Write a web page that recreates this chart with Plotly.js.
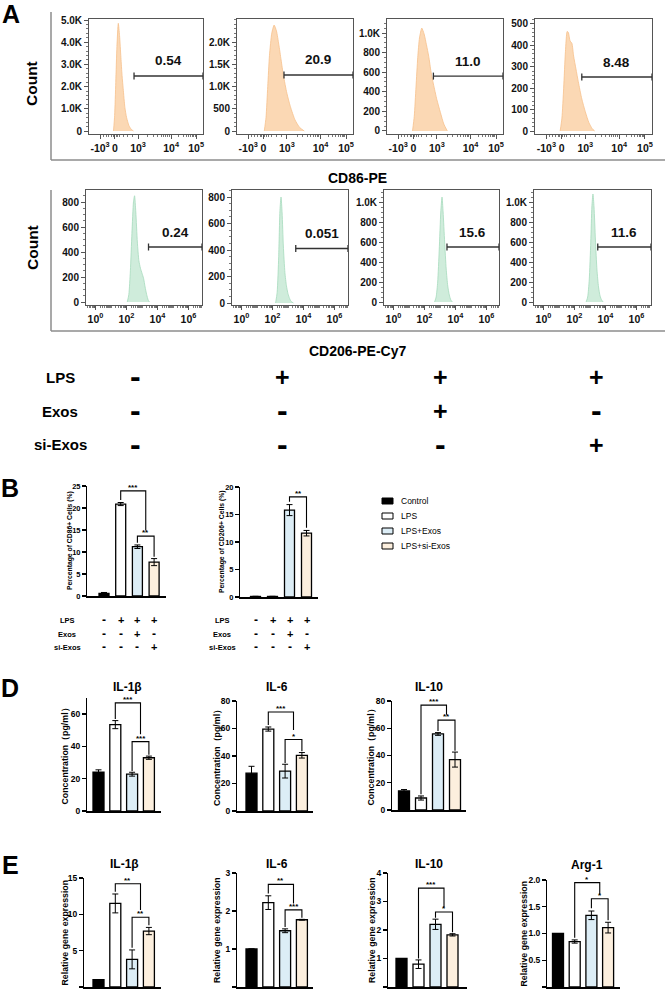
<!DOCTYPE html>
<html><head><meta charset="utf-8">
<script src="https://cdn.plot.ly/plotly-3.0.1.min.js"></script>
<style>html,body{margin:0;padding:0;background:#fff}#chart{width:665px;height:991px}</style>
</head><body><div id="chart"></div>
<script>
// ================= DATA =================
const groups = ['Control', 'LPS', 'LPS+Exos', 'LPS+si-Exos'];
const rowLabels = ['LPS', 'Exos', 'si-Exos'];
const lpsRow = ['-', '+', '+', '+'];
const exosRow = ['-', '-', '+', '-'];
const siExosRow = ['-', '-', '-', '+'];

// Panel A, CD86-PE histograms (x on the logicle display scale 0..1, y = count)
const cd86X_ctrl = [0.215,0.225,0.235,0.245,0.257,0.268,0.28,0.29,0.30,0.315,0.33,0.35,0.37,0.39];
const cd86Y_ctrl = [0,700,2200,3800,4850,4300,3300,2500,1900,1050,600,250,80,0];
const cd86X_lps = [0.235,0.25,0.265,0.28,0.30,0.32,0.34,0.36,0.38,0.40,0.43,0.46,0.50,0.54,0.58];
const cd86Y_lps = [0,300,1000,1700,2200,2380,2250,1950,1600,1250,850,550,250,80,0];
const cd86X_exos = [0.22,0.235,0.25,0.265,0.28,0.30,0.32,0.34,0.36,0.38,0.40,0.43,0.46,0.49,0.52];
const cd86Y_exos = [0,150,450,750,950,1050,990,880,760,600,480,320,190,70,0];
const cd86X_si = [0.215,0.23,0.245,0.26,0.275,0.285,0.30,0.315,0.33,0.35,0.37,0.40,0.43,0.46,0.49,0.51];
const cd86Y_si = [0,60,200,370,465,460,420,410,350,290,230,150,90,40,10,0];
const cd86GatePct = ['0.54', '20.9', '11.0', '8.48'];
const cd86GateStart = [0.395, 0.405, 0.40, 0.40];
const cd86GateLevel = [2480, 1260, 560, 252];

// Panel A, CD206-PE-Cy7 histograms (x in decades, y = count)
const cd206X_ctrl = [2.05,2.15,2.25,2.35,2.45,2.52,2.6,2.7,2.8,2.9,3.0,3.1,3.2,3.3,3.4,3.48];
const cd206Y_ctrl = [0,60,250,550,800,850,720,480,330,270,230,190,120,60,15,0];
const cd206X_lps = [2.2,2.3,2.4,2.48,2.55,2.62,2.7,2.8,2.9,3.0,3.1,3.2,3.35];
const cd206Y_lps = [0,80,350,700,800,680,430,230,130,70,35,12,0];
const cd206X_exos = [2.65,2.75,2.85,2.95,3.05,3.13,3.2,3.3,3.4,3.5,3.6,3.7,3.8];
const cd206Y_exos = [0,50,200,520,900,1050,900,600,330,160,70,20,0];
const cd206X_si = [2.75,2.85,2.95,3.05,3.12,3.19,3.26,3.35,3.45,3.55,3.65,3.75,3.85];
const cd206Y_si = [0,50,220,600,950,1080,950,620,320,150,60,20,0];
const cd206GatePct = ['0.24', '0.051', '15.6', '11.6'];
const cd206GateStart = [3.42, 3.5, 3.45, 3.5];
const cd206GateLevel = [440, 412, 550, 550];

// Histogram tick labels
const cd86XTickVals = [0.097, 0.228, 0.43, 0.72, 0.94];
const cd86XTickText = ['-10<sup>3</sup>', '0', '10<sup>3</sup>', '10<sup>4</sup>', '10<sup>5</sup>'];
const cd206XTickVals = [0, 2, 4, 6];
const cd206XTickText = ['10<sup>0</sup>', '10<sup>2</sup>', '10<sup>4</sup>', '10<sup>6</sup>'];
const cd86YTicks = [
  [[0,1000,2000,3000,4000,5000], ['0','1.0K','2.0K','3.0K','4.0K','5.0K']],
  [[0,500,1000,1500,2000], ['0','500','1.0K','1.5K','2.0K']],
  [[0,200,400,600,800,1000], ['0','200','400','600','800','1.0K']],
  [[0,100,200,300,400,500], ['0','100','200','300','400','500']]
];
const cd206YTicks = [
  [[0,200,400,600,800], ['0','200','400','600','800']],
  [[0,200,400,600,800], ['0','200','400','600','800']],
  [[0,200,400,600,800,1000], ['0','200','400','600','800','1.0K']],
  [[0,200,400,600,800,1000], ['0','200','400','600','800','1.0K']]
];

// Panel B: percentage of positive cells (mean, SD)
const cd86Pct = [0.6, 20.9, 11.2, 7.7];
const cd86PctErr = [0.2, 0.35, 0.4, 0.8];
const cd206Pct = [0.1, 0.1, 15.8, 11.6];
const cd206PctErr = [0.03, 0.03, 1.0, 0.5];

// Panel D: ELISA concentration (pg/ml)
const il1bConc = [24, 53.5, 22.8, 33];
const il1bConcErr = [1.5, 2.5, 1.2, 1.0];
const il6Conc = [27.5, 59.6, 29, 40.5];
const il6ConcErr = [5, 1.5, 5, 2];
const il10Conc = [14, 8.8, 55.8, 37];
const il10ConcErr = [1, 1.5, 1, 5.5];

// Panel E: relative gene expression
const il1bExpr = [1, 11.5, 3.8, 7.7];
const il1bExprErr = [0, 1.3, 1.3, 0.5];
const il6Expr = [1, 2.22, 1.48, 1.77];
const il6ExprErr = [0, 0.18, 0.05, 0.01];
const il10Expr = [1, 0.8, 2.2, 1.83];
const il10ExprErr = [0, 0.15, 0.18, 0.04];
const arg1Expr = [1, 0.85, 1.34, 1.11];
const arg1ExprErr = [0, 0.03, 0.08, 0.1];

// Significance brackets: [from group, to group, top, left end, right end, label]
const cd86Sig = [[1, 2.5, 23.9, 21.8, 14.9, '***'], [2, 3, 13.6, 12.1, 8.9, '**']];
const cd206Sig = [[2, 3, 18.2, 17.3, 12.6, '**']];
const il1bConcSig = [[1, 2.5, 67, 57, 47.5, '***'], [2, 3, 43, 24.8, 34.8, '***']];
const il6ConcSig = [[1, 2.5, 72, 62.5, 59, '***'], [2, 3, 52, 35, 43.5, '*']];
const il10ConcSig = [[1, 2.5, 77, 11.5, 70, '***'], [2, 3, 66, 58, 43.5, '**']];
const il1bExprSig = [[1, 2.5, 14.2, 13.1, 10.6, '**'], [2, 3, 9.6, 5.4, 8.5, '**']];
const il6ExprSig = [[1, 2.5, 2.7, 2.46, 2.2, '**'], [2, 3, 2.03, 1.58, 1.82, '***']];
const il10ExprSig = [[1, 2.5, 3.47, 1.0, 2.8, '***'], [2, 3, 2.63, 2.43, 1.92, '*']];
const arg1ExprSig = [[1, 2.5, 1.95, 0.92, 1.73, '*'], [2, 3, 1.65, 1.47, 1.25, '*']];

// ================= STYLE / LAYOUT =================
const W = 665, H = 991;
const FONT = 'Liberation Sans, Arial, Helvetica, sans-serif';
const barColors = ['#000000', '#ffffff', '#dcedf6', '#fcefde'];
const orangeFill = 'rgba(251,214,176,0.95)', orangeLine = '#f6c08c';
const greenFill = 'rgba(204,235,217,0.95)', greenLine = '#a6dbbd';

const traces = [];
const layout = {
  width: W, height: H, margin: {l: 0, r: 0, t: 0, b: 0},
  paper_bgcolor: '#ffffff', plot_bgcolor: 'rgba(0,0,0,0)',
  showlegend: false, font: {family: FONT, color: '#000'},
  shapes: [], annotations: []
};
const an = n => (n === 1 ? '' : String(n));
const px = x => x / W;
const py = y => 1 - y / H;
const b = t => '<b>' + t + '</b>';

function txt(x, y, text, size, opts) {
  layout.annotations.push(Object.assign({
    xref: 'paper', yref: 'paper', x: px(x), y: py(y), text: text, showarrow: false,
    xanchor: 'center', yanchor: 'middle', font: {family: FONT, size: size, color: '#000'}
  }, opts || {}));
}
function pline(x0, y0, x1, y1, color, width) {
  layout.shapes.push({type: 'line', xref: 'paper', yref: 'paper',
    x0: px(x0), y0: py(y0), x1: px(x1), y1: py(y1), line: {color: color, width: width}});
}

// ---------- histogram helpers ----------
function histPlot(n, xPx, yPx, xr, yr, xTickVals, xTickText, xMinor, yTicks, yMinorD, xs, ys, fill, line, gStart, gLevel, gPct) {
  const s = an(n);
  layout['xaxis' + s] = {
    domain: [px(xPx[0]), px(xPx[1])], range: xr, anchor: 'y' + s,
    showline: true, mirror: true, linecolor: '#555', linewidth: 1,
    ticks: 'outside', ticklen: 4, tickwidth: 1, tickcolor: '#555',
    tickmode: 'array', tickvals: xTickVals, ticktext: xTickText.map(b),
    tickfont: {family: FONT, size: 10.5, color: '#111'},
    minor: {tickmode: 'array', tickvals: xMinor, ticks: 'outside', ticklen: 2, tickwidth: 0.8, tickcolor: '#555'},
    showgrid: false, zeroline: false, fixedrange: true
  };
  layout['yaxis' + s] = {
    domain: [py(yPx[1]), py(yPx[0])], range: yr, anchor: 'x' + s,
    showline: true, mirror: true, linecolor: '#555', linewidth: 1,
    ticks: 'outside', ticklen: 4, tickwidth: 1, tickcolor: '#555',
    tickmode: 'array', tickvals: yTicks[0], ticktext: yTicks[1].map(b),
    tickfont: {family: FONT, size: 10, color: '#111'},
    minor: {tickmode: 'linear', tick0: 0, dtick: yMinorD, ticks: 'outside', ticklen: 2, tickwidth: 0.8, tickcolor: '#555'},
    showgrid: false, zeroline: false, fixedrange: true
  };
  traces.push({type: 'scatter', mode: 'lines', x: xs, y: ys, xaxis: 'x' + s, yaxis: 'y' + s,
    fill: 'tozeroy', fillcolor: fill, line: {color: line, width: 0.8, shape: 'spline', smoothing: 0.6},
    hoverinfo: 'skip'});
  const xe = xr[1];
  const ref = {xref: 'x' + s, yref: 'y' + s};
  layout.shapes.push(Object.assign({type: 'line', x0: gStart, x1: xe, y0: gLevel, y1: gLevel, line: {color: '#333', width: 1.4}}, ref));
  [gStart, xe].forEach(xc => layout.shapes.push(Object.assign({type: 'line', ysizemode: 'pixel', yanchor: gLevel,
    x0: xc, x1: xc, y0: -3.5, y1: 3.5, line: {color: '#333', width: 1.3}}, ref)));
  layout.annotations.push(Object.assign({x: (gStart + xe) / 2, y: gLevel, yshift: 15, text: b(gPct), showarrow: false,
    xanchor: 'center', yanchor: 'middle', font: {family: FONT, size: 13.5, color: '#111'}}, ref));
}

// minor tick positions (axis decoration)
const cd86Minor = [0.125, 0.15, 0.175, 0.2, 0.212, 0.238, 0.25, 0.27, 0.3, 0.34, 0.38];
[[0.43, 0.72], [0.72, 0.94]].forEach(([a, c]) => { for (let k = 2; k <= 9; k++) cd86Minor.push(a + (c - a) * Math.log10(k)); });
const cd206Minor = [];
for (let d = -1; d <= 6; d++) for (let k = 2; k <= 9; k++) { const v = d + Math.log10(k); if (v > -0.6 && v < 6.9) cd206Minor.push(v); }
[1, 3, 5].forEach(v => cd206Minor.push(v));

const topX = [[89, 203], [237, 353], [387, 503], [535, 652]];
const topY = [19, 134];
const topYR = [[-135, 5045], [-67, 2517], [-31, 1143], [-14, 523]];
const topMinor = [200, 100, 50, 20];
const cd86Xs = [cd86X_ctrl, cd86X_lps, cd86X_exos, cd86X_si];
const cd86Ys = [cd86Y_ctrl, cd86Y_lps, cd86Y_exos, cd86Y_si];
for (let i = 0; i < 4; i++) {
  histPlot(i + 1, topX[i], topY, [0, 1], topYR[i], cd86XTickVals, cd86XTickText, cd86Minor,
    cd86YTicks[i], topMinor[i], cd86Xs[i], cd86Ys[i], orangeFill, orangeLine,
    cd86GateStart[i], cd86GateLevel[i], cd86GatePct[i]);
}
const botX = [[86, 202], [232, 348], [384, 499], [534, 651]];
const botY = [190, 305];
const botYR = [[-24, 896], [-15, 853], [-30, 1120], [-30, 1120]];
const cd206Xs = [cd206X_ctrl, cd206X_lps, cd206X_exos, cd206X_si];
const cd206Ys = [cd206Y_ctrl, cd206Y_lps, cd206Y_exos, cd206Y_si];
for (let i = 0; i < 4; i++) {
  const w = botX[i][1] - botX[i][0];
  histPlot(i + 5, botX[i], botY, [-0.613, -0.613 + w / 15.5], botYR[i], cd206XTickVals, cd206XTickText, cd206Minor,
    cd206YTicks[i], 50, cd206Xs[i], cd206Ys[i], greenFill, greenLine,
    cd206GateStart[i], cd206GateLevel[i], cd206GatePct[i]);
}

// Panel A frame lines, labels
pline(51, 12, 51, 160, '#8c8c8c', 1.5); pline(51, 160, 665, 160, '#8c8c8c', 1.5);
pline(51, 190, 51, 331, '#8c8c8c', 1.5); pline(51, 331, 665, 331, '#8c8c8c', 1.5);
txt(32, 84, b('Count'), 15.5, {textangle: -90});
txt(32, 248, b('Count'), 15.5, {textangle: -90});
txt(357, 178, b('CD86-PE'), 14);
txt(357, 351, b('CD206-PE-Cy7'), 14);

// A treatment table
const tableRows = [lpsRow, exosRow, siExosRow];
const tableRowY = [377, 411, 445];
const tableColX = [135, 282, 440, 596];
rowLabels.forEach((lab, r) => {
  txt(60, tableRowY[r], b(lab), 15);
  tableRows[r].forEach((sg, c) => {
    if (sg === '+') txt(tableColX[c], tableRowY[r], b('+'), 25);
    else txt(tableColX[c], tableRowY[r] - 1, b('-'), 32);
  });
});

// Panel letters
txt(11, 14, b('A'), 25);
txt(10, 488, b('B'), 25);
txt(10, 688, b('D'), 25);
txt(10, 865, b('E'), 25);

// ---------- bar chart helper ----------
function barPlot(n, cfg) {
  const s = an(n);
  const L = cfg.L, R = cfg.R, c0 = cfg.c0, sp = cfg.sp;
  layout['xaxis' + s] = {
    domain: [px(L), px(R)], range: [-(c0 - L) / sp, (R - c0) / sp], anchor: 'y' + s,
    showline: true, linecolor: '#000', linewidth: 1.5, ticks: '', showticklabels: false,
    showgrid: false, zeroline: false, fixedrange: true
  };
  const tv = [], tt = [];
  for (let v = 0; v <= cfg.ymax + 1e-9; v += cfg.dtick) { tv.push(+v.toFixed(3)); tt.push(b(cfg.fmt ? v.toFixed(1) : String(Math.round(v)))); }
  layout['yaxis' + s] = {
    domain: [py(cfg.bot), py(cfg.top)], range: [0, cfg.ymax], anchor: 'x' + s,
    showline: true, linecolor: '#000', linewidth: 1.5, ticks: 'outside', ticklen: 3.5, tickwidth: 1.3, tickcolor: '#000',
    tickmode: 'array', tickvals: tv, ticktext: tt, tickfont: {family: FONT, size: cfg.tfs || 8.5, color: '#000'},
    showgrid: false, zeroline: false, fixedrange: true
  };
  traces.push({type: 'bar', x: [0, 1, 2, 3], y: cfg.vals, xaxis: 'x' + s, yaxis: 'y' + s,
    width: cfg.bw / sp, marker: {color: barColors, line: {color: '#000', width: 1.3}},
    error_y: {type: 'data', array: cfg.errs, visible: true, color: '#000', thickness: 1, width: 3},
    hoverinfo: 'skip', cliponaxis: false});
  cfg.sig.forEach(([x1, x2, yt, yl, yr, lab]) => {
    layout.shapes.push({type: 'path', xref: 'x' + s, yref: 'y' + s,
      path: `M${x1},${yl} L${x1},${yt} L${x2},${yt} L${x2},${yr}`, line: {color: '#000', width: 1.1}});
    layout.annotations.push({xref: 'x' + s, yref: 'y' + s, x: (x1 + x2) / 2, y: yt, yshift: -3, text: b(lab),
      showarrow: false, xanchor: 'center', yanchor: 'bottom', font: {family: FONT, size: 8, color: '#000'}});
  });
  if (cfg.title) txt(cfg.title[0], cfg.title[1], b(cfg.title[2]), 12);
  txt(cfg.ytx, (cfg.top + cfg.bot) / 2, b(cfg.ytitle), cfg.ytfs || 8.8, {textangle: -90});
}

// Panel B
barPlot(9, {L: 87, R: 166, c0: 104, sp: 16.7, bw: 10, top: 486, bot: 596, ymax: 25, dtick: 5, tfs: 7.5,
  vals: cd86Pct, errs: cd86PctErr, sig: cd86Sig, ytx: 70, ytitle: 'Percentage of CD86+ Cells (%)', ytfs: 6.8});
barPlot(10, {L: 240, R: 318, c0: 255.5, sp: 17, bw: 10, top: 487, bot: 597, ymax: 20, dtick: 5, tfs: 7.5,
  vals: cd206Pct, errs: cd206PctErr, sig: cd206Sig, ytx: 222, ytitle: 'Percentage of CD206+ Cells (%)', ytfs: 6.8});
// B treatment tables (signs under the bars)
const bRowY = [620, 634, 647];
[[9, 67], [10, 222]].forEach(([n, lx]) => {
  rowLabels.forEach((lab, r) => {
    txt(lx, bRowY[r], b(lab), 7.5);
    tableRows[r].forEach((sg, c) => {
      layout.annotations.push({xref: 'x' + n, yref: 'paper', x: c, y: py(bRowY[r]), text: b(sg), showarrow: false,
        xanchor: 'center', yanchor: 'middle', font: {family: FONT, size: sg === '+' ? 11 : 12, color: '#000'}});
    });
  });
});
// B legend
const legY = [501, 516, 531, 546];
groups.forEach((g, i) => {
  layout.shapes.push({type: 'rect', xref: 'paper', yref: 'paper', x0: px(382), x1: px(393), y0: py(legY[i] + 3), y1: py(legY[i] - 3),
    fillcolor: barColors[i], line: {color: '#000', width: 1}});
  txt(399, legY[i], g, 8.5, {xanchor: 'left'});
});

// Panel D
barPlot(11, {L: 87, R: 161, c0: 98.5, sp: 16.8, bw: 11, top: 698, bot: 811, ymax: 70, dtick: 20,
  vals: il1bConc, errs: il1bConcErr, sig: il1bConcSig, title: [127, 687, 'IL-1β'], ytx: 64, ytitle: 'Concentration（pg/ml）'});
barPlot(12, {L: 237, R: 313, c0: 251.5, sp: 16.8, bw: 11, top: 701, bot: 811, ymax: 80, dtick: 20,
  vals: il6Conc, errs: il6ConcErr, sig: il6ConcSig, title: [277, 687, 'IL-6'], ytx: 217, ytitle: 'Concentration（pg/ml）'});
barPlot(13, {L: 392, R: 466, c0: 404, sp: 17, bw: 11, top: 701, bot: 810, ymax: 80, dtick: 20,
  vals: il10Conc, errs: il10ConcErr, sig: il10ConcSig, title: [429, 687, 'IL-10'], ytx: 370, ytitle: 'Concentration（pg/ml）'});

// Panel E
barPlot(14, {L: 84, R: 161, c0: 98.5, sp: 16.8, bw: 11, top: 878, bot: 987, ymax: 15, dtick: 5,
  vals: il1bExpr, errs: il1bExprErr, sig: il1bExprSig, title: [124, 864, 'IL-1β'], ytx: 64, ytitle: 'Relative gene expression'});
barPlot(15, {L: 237, R: 313, c0: 251.5, sp: 16.8, bw: 11, top: 873, bot: 987, ymax: 3, dtick: 1,
  vals: il6Expr, errs: il6ExprErr, sig: il6ExprSig, title: [277, 864, 'IL-6'], ytx: 217, ytitle: 'Relative gene expression'});
barPlot(16, {L: 388, R: 467, c0: 401.5, sp: 17, bw: 11, top: 873, bot: 987, ymax: 4, dtick: 1,
  vals: il10Expr, errs: il10ExprErr, sig: il10ExprSig, title: [429, 864, 'IL-10'], ytx: 372, ytitle: 'Relative gene expression'});
barPlot(17, {L: 547, R: 620, c0: 558, sp: 16.7, bw: 11, top: 880, bot: 987, ymax: 2, dtick: 0.5, fmt: true,
  vals: arg1Expr, errs: arg1ExprErr, sig: arg1ExprSig, title: [587, 865, 'Arg-1'], ytx: 523, ytitle: 'Relative gene expression'});

Plotly.newPlot('chart', traces, layout, {staticPlot: true, displayModeBar: false});
</script>
</body></html>
